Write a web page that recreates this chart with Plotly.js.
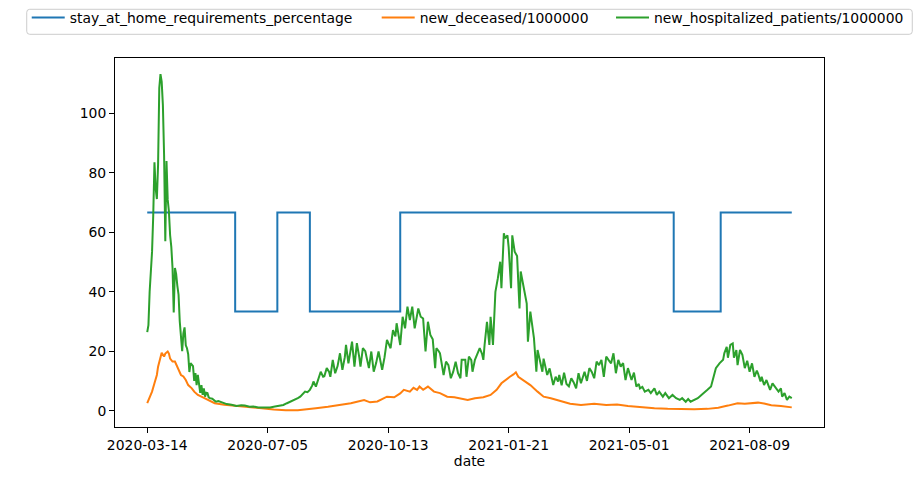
<!DOCTYPE html>
<html>
<head>
<meta charset="utf-8">
<script src="https://cdn.plot.ly/plotly-3.0.1.min.js"></script>
<style>
html,body{margin:0;padding:0;background:#fff;}
#chart{width:915px;height:480px;}
</style>
</head>
<body>
<div id="chart"></div>
<script>
// Row positions (pandas plots the object-typed date column by row index)
const tickRows = [0, 100, 200, 300, 400, 500];
const tickLabels = ["2020-03-14", "2020-07-05", "2020-10-13", "2021-01-21", "2021-05-01", "2021-08-09"];

// stay_at_home_requirements_percentage (step changes)
const stayRows = [0, 73, 108, 135, 210, 437, 476, 535];
const stayVals = [66.67, 33.33, 66.67, 33.33, 66.67, 33.33, 66.67, 66.67];

// new_deceased/1000000
const deceasedRows = [0, 2, 4, 6, 8, 9, 11, 12, 14, 15, 17, 18, 19, 21, 23, 25, 26, 28, 30, 32, 34, 37, 39, 42, 45, 50, 56, 64, 75, 85, 95, 105, 115, 125, 135, 140, 150, 158, 169, 180, 185, 191, 199, 205, 210, 213, 218, 221, 224, 226, 229, 233, 238, 243, 249, 255, 260, 266, 272, 279, 285, 290, 294, 299, 301, 304, 306, 308, 312, 318, 324, 329, 335, 340, 346, 351, 360, 371, 381, 390, 399, 410, 421, 432, 443, 454, 465, 474, 482, 490, 496, 501, 507, 512, 518, 526, 535];
const deceasedVals = [2.5, 4.2, 6.4, 9.2, 12, 14.8, 18.2, 19.5, 18.2, 19.2, 19.9, 19.2, 17.5, 16.5, 16.5, 14.8, 13.6, 12, 11.5, 10.3, 8.6, 7.5, 6.4, 5.3, 4.7, 3.6, 2.5, 2, 1.5, 1, 0.8, 0.4, 0.1, 0.1, 0.4, 0.8, 1.3, 1.9, 2.5, 3.6, 2.8, 3.1, 4.7, 4.5, 5.8, 7, 6.4, 7.7, 7, 8.1, 7, 8.1, 6.4, 5.9, 4.7, 4.5, 4.2, 3.6, 4.2, 4.5, 5.3, 7, 9.2, 10.9, 11.4, 12.2, 12.9, 11.4, 10.3, 8.6, 6.4, 4.7, 4.2, 3.6, 3, 2.3, 1.9, 2.3, 1.9, 2.1, 1.6, 1.1, 0.8, 0.6, 0.5, 0.5, 0.6, 1, 1.7, 2.5, 2.3, 2.5, 2.7, 2.4, 1.8, 1.6, 1.1];

// new_hospitalized_patients/1000000
const hospRows = [0, 1, 2, 3, 4, 5, 6, 7, 8, 9, 10, 11, 12, 13, 14, 15, 16, 17, 18, 19, 20, 21, 22, 23, 24, 25, 26, 27, 28, 29, 30, 31, 32, 33, 34, 35, 36, 37, 38, 39, 40, 41, 42, 43, 44, 45, 46, 47, 48, 49, 50, 51, 52, 54, 55, 57, 59, 62, 64, 66, 70, 74, 78, 81, 85, 88, 92, 95, 99, 102, 106, 110, 113, 116, 119, 122, 125, 127, 129, 131, 133, 135, 137, 138, 140, 142, 144, 146, 147, 149, 151, 152, 154, 156, 158, 160, 162, 164, 165, 167, 168, 170, 172, 174, 176, 177, 179, 181, 184, 186, 188, 190, 192, 195, 197, 199, 202, 204, 206, 207, 210, 212, 214, 216, 218, 220, 222, 225, 227, 229, 231, 233, 235, 237, 239, 240, 242, 243, 246, 248, 250, 252, 254, 256, 258, 260, 261, 264, 265, 267, 269, 270, 272, 276, 278, 279, 280, 282, 284, 285, 287, 289, 291, 293, 294, 296, 297, 298, 299, 300, 302, 303, 305, 307, 309, 310, 313, 315, 316, 318, 321, 323, 324, 326, 328, 329, 332, 334, 337, 339, 341, 342, 344, 346, 348, 350, 352, 354, 356, 358, 360, 363, 365, 367, 369, 371, 373, 375, 377, 379, 381, 383, 385, 387, 389, 391, 393, 395, 397, 399, 402, 404, 406, 408, 409, 411, 413, 416, 418, 421, 423, 425, 428, 430, 433, 436, 439, 442, 444, 447, 449, 451, 454, 457, 460, 462, 465, 468, 470, 472, 475, 478, 479, 481, 482, 484, 486, 487, 489, 490, 492, 494, 496, 498, 500, 502, 504, 506, 507, 509, 510, 512, 514, 517, 519, 521, 524, 526, 527, 529, 531, 533, 535];
const hospVals = [26.4, 28.8, 40, 45.6, 53.5, 65.8, 83.6, 74.8, 71.2, 82.7, 108.5, 113.2, 110.7, 102.8, 86, 57, 84, 71, 67, 59, 55, 48, 33, 48, 46, 42, 39, 30, 24, 20, 26, 28, 22, 21, 19, 13, 16, 15.5, 15, 10, 12.6, 8.6, 12, 9, 6, 8.6, 5.3, 7.5, 4.7, 6, 5.9, 4.5, 4.2, 4, 3.6, 3, 3.2, 2.8, 2.3, 2.2, 2, 1.6, 1.8, 1.7, 1.3, 1.4, 1.1, 1.1, 0.9, 1.1, 1.4, 1.6, 1.9, 2.5, 3, 3.6, 4.2, 4.7, 5.5, 6.4, 6.2, 7, 8.5, 9.8, 8.1, 11, 13.1, 11.4, 11.6, 14.3, 13, 11.4, 17.1, 12.6, 15, 19.3, 13.7, 18, 22.1, 15.9, 18, 23.2, 14.8, 22.7, 18, 14.8, 21, 20, 14.3, 19.9, 13.1, 16, 19.9, 13.7, 18, 23.8, 21, 27.1, 25, 29.4, 22.1, 31.6, 27.7, 35, 30.5, 35, 27.7, 34.4, 31.6, 31, 19.9, 29.9, 25.5, 24, 14.3, 21, 20, 19.3, 12, 16.5, 15.3, 10.9, 13.1, 16.5, 12.6, 10.9, 17.1, 17.1, 11.4, 18.2, 17, 13.1, 17.1, 21, 19, 17.1, 22, 29.9, 22.1, 31.6, 22.1, 40, 44.5, 50.1, 41.2, 59.7, 58, 58.5, 59, 55, 41.2, 59, 53.5, 52, 34.4, 46.8, 40, 36, 23.2, 33.3, 24.4, 13.1, 20.4, 16.5, 13.1, 17.5, 12, 14.2, 8.6, 11.4, 9.8, 12, 8.5, 12.8, 9, 8.2, 10.9, 9.5, 7.5, 12.6, 9.2, 13.1, 10, 14.3, 13, 10.9, 16.5, 15.3, 17.1, 11.4, 18.2, 17, 15.9, 19.3, 12.6, 17.1, 14.8, 16, 10.3, 14.3, 10.3, 12.8, 8.1, 9, 7.5, 8, 6.4, 7, 5.9, 7.5, 5.3, 6.4, 4.7, 5.9, 4.2, 5.3, 4.2, 3.6, 4.2, 3, 3.9, 3, 3.6, 4.2, 5.3, 5.9, 7, 8.1, 11.4, 14.3, 15.9, 17.1, 19.3, 21.5, 17.8, 22.1, 22.6, 17.8, 20.4, 15.3, 20.4, 18.8, 14.3, 16.8, 13.1, 15.9, 11.4, 13.5, 12.5, 9.8, 11.4, 8.6, 10.3, 7, 9.2, 8, 6.4, 7.5, 4.7, 5.9, 3.6, 4.7, 4.2];

const yTicks = [0, 20, 40, 60, 80, 100];

const FONT = "DejaVu Sans, sans-serif";
const legendFont = {family: FONT, size: 13.9, color: "#000000"};

function legendAt(x) {
  return {orientation: "h", x: x, y: 1.1518, xanchor: "left", yanchor: "top",
          bgcolor: "rgba(0,0,0,0)", borderwidth: 0, itemwidth: 33, font: legendFont};
}

const traces = [
  {x: stayRows, y: stayVals, type: "scatter", mode: "lines", name: "stay_at_home_requirements_percentage",
   line: {color: "#1f77b4", width: 2, shape: "hv"}, legend: "legend"},
  {x: deceasedRows, y: deceasedVals, type: "scatter", mode: "lines", name: "new_deceased/1000000",
   line: {color: "#ff7f0e", width: 2}, legend: "legend2"},
  {x: hospRows, y: hospVals, type: "scatter", mode: "lines", name: "new_hospitalized_patients/1000000",
   line: {color: "#2ca02c", width: 2}, legend: "legend3"}
];

// legend frame (paper coordinates, rounded corners)
const fx0 = -0.1245, fx1 = 1.1245, fy0 = 1.0642, fy1 = 1.132;
const rx = 3 / 709, ry = 3 / 369;
const framePath = `M${fx0 + rx},${fy1} L${fx1 - rx},${fy1} Q${fx1},${fy1} ${fx1},${fy1 - ry} ` +
  `L${fx1},${fy0 + ry} Q${fx1},${fy0} ${fx1 - rx},${fy0} L${fx0 + rx},${fy0} Q${fx0},${fy0} ${fx0},${fy0 + ry} ` +
  `L${fx0},${fy1 - ry} Q${fx0},${fy1} ${fx0 + rx},${fy1} Z`;

const layout = {
  width: 915, height: 480,
  margin: {l: 115, r: 91, t: 58, b: 53, pad: 0, autoexpand: false},
  paper_bgcolor: "#ffffff", plot_bgcolor: "#ffffff",
  font: {family: FONT, size: 13.9, color: "#000000"},
  showlegend: true,
  legend: legendAt(-0.1245),
  legend2: legendAt(0.3691),
  legend3: legendAt(0.6996),
  shapes: [{type: "path", xref: "paper", yref: "paper", path: framePath,
            line: {color: "#cccccc", width: 1}, fillcolor: "rgba(255,255,255,0.8)", layer: "below"}],
  xaxis: {
    range: [-26.75, 561.75], tickmode: "array", tickvals: tickRows, ticktext: tickLabels,
    showgrid: false, zeroline: false, showline: true, mirror: true, linecolor: "#000000", linewidth: 1,
    ticks: "outside", ticklen: 5, tickwidth: 1, tickcolor: "#000000",
    tickfont: {family: FONT, size: 13.9, color: "#000000"},
    title: {text: "date", font: {family: FONT, size: 13.9, color: "#000000"}, standoff: 4}
  },
  yaxis: {
    range: [-5.5, 118.65], tickmode: "array", tickvals: yTicks,
    showgrid: false, zeroline: false, showline: true, mirror: true, linecolor: "#000000", linewidth: 1,
    ticks: "outside", ticklen: 5, tickwidth: 1, tickcolor: "#000000",
    tickfont: {family: FONT, size: 13.9, color: "#000000"}
  }
};

Plotly.newPlot("chart", traces, layout, {displayModeBar: false, staticPlot: true});
</script>
</body>
</html>
